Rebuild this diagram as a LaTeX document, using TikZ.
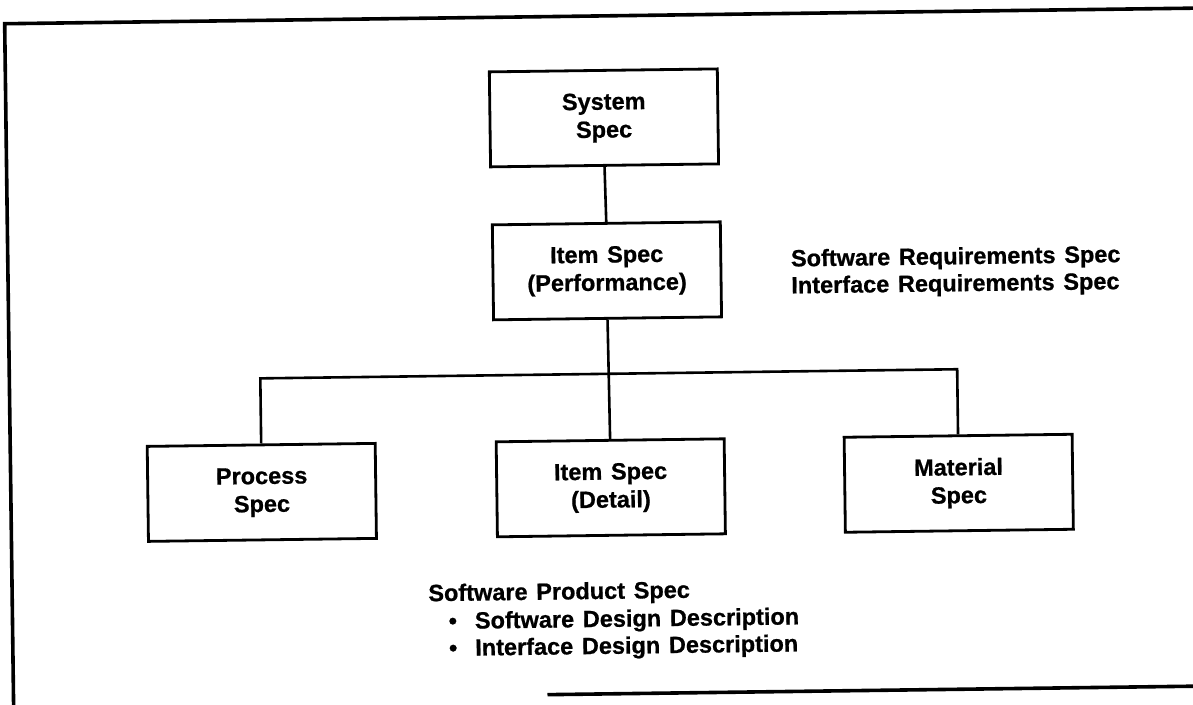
\documentclass[tikz,border=0pt]{standalone}
\usepackage{fontspec}
\setmainfont{Liberation Sans}[BoldFeatures={FakeBold=0.8}]
\newcommand\lblfont{\fontsize{23.5}{28}\selectfont\bfseries\spaceskip=0.37em plus 0.1em\relax}
\tikzset{
  box/.style={draw, line width=2.8pt, minimum width=228pt, minimum height=95pt,
              inner sep=0pt, align=center, font=\lblfont},
  conn/.style={line width=2.6pt},
  frameline/.style={line width=3.6pt},
  txt/.style={inner sep=0pt, font=\lblfont, anchor=base west},
}
\begin{document}
\begin{tikzpicture}[x=1pt, y=-1pt]
\useasboundingbox (0,0) rectangle (1193,704);
\clip (0,0) rectangle (1193,704);
\fill[white] (0,0) rectangle (1193,704);
\begin{scope}[rotate around={0.75:(596,352)}, transform shape]
  % outer frame (open on the right)
  \draw[frameline] (1230,16) -- (9,16) -- (9,740);
  \draw[frameline] (543,694) -- (1230,694);

  % boxes
  \node[box] (sys)  at (607,118) {System\\Spec};
  \node[box] (perf) at (608,271) {Item Spec\\(Performance)};
  \node[box] (proc) at (260,488) {Process\\Spec};
  \node[box] (det)  at (609,488) {Item Spec\\(Detail)};
  \node[box] (mat)  at (957,488) {Material\\Spec};
  \coordinate (bus) at (608,374);

  % connectors
  \draw[conn] (sys.south) -- (perf.north);
  \draw[conn] (perf.south) -- (det.north);
  \draw[conn] (proc.north) |- (bus) -| (mat.north);

  % side texts
  \node[txt] (srs) at (792,269) {Software Requirements Spec};
  \node[txt] (irs) at (792,296) {Interface Requirements Spec};

  \node[txt] (sps) at (425,599) {Software Product Spec};
  \node[txt] (sdd) at (445,627) {•\hspace{18pt}Software Design Description};
  \node[txt] (idd) at (445,654) {•\hspace{18pt}Interface Design Description};
\end{scope}
\end{tikzpicture}
\end{document}
